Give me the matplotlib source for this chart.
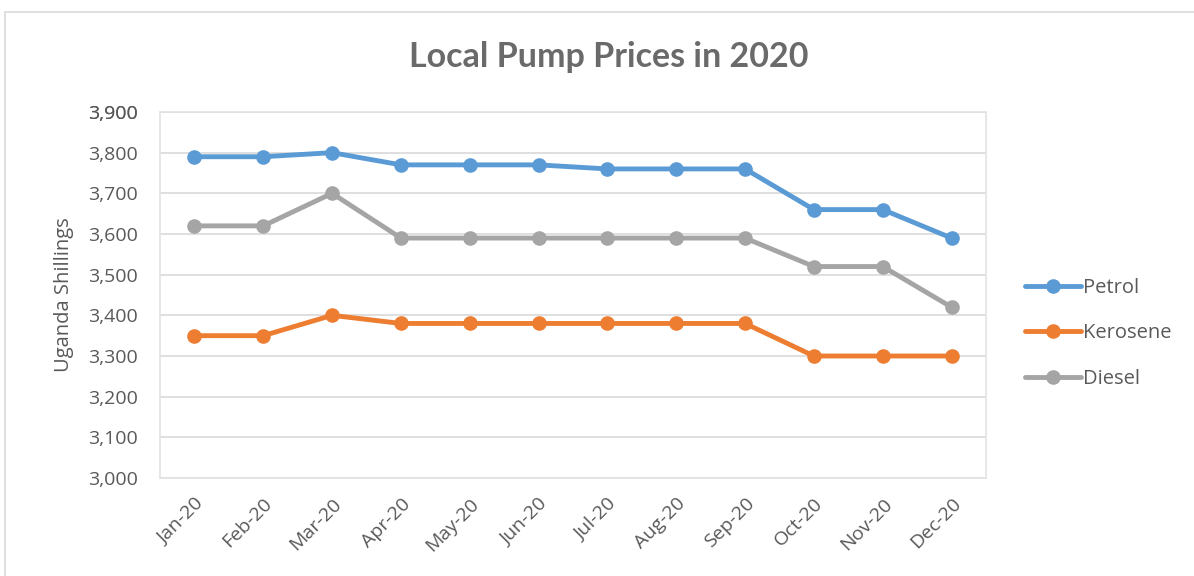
import matplotlib.pyplot as plt
from matplotlib.patches import Rectangle
from matplotlib.ticker import FuncFormatter

months = ['Jan-20', 'Feb-20', 'Mar-20', 'Apr-20', 'May-20', 'Jun-20',
          'Jul-20', 'Aug-20', 'Sep-20', 'Oct-20', 'Nov-20', 'Dec-20']
petrol = [3790, 3790, 3800, 3770, 3770, 3770, 3760, 3760, 3760, 3660, 3660, 3590]
kerosene = [3350, 3350, 3400, 3380, 3380, 3380, 3380, 3380, 3380, 3300, 3300, 3300]
diesel = [3620, 3620, 3700, 3590, 3590, 3590, 3590, 3590, 3590, 3520, 3520, 3420]
y_ticks = list(range(3000, 4000, 100))

text_grey = '#595959'
plt.rcParams['font.family'] = ['Open Sans', 'DejaVu Sans']

fig = plt.figure(figsize=(11.94, 5.76), dpi=100)
# outer chart border
fig.patches.append(Rectangle((5 / 1194, -0.01), 1.2, 1 - 12 / 576 + 0.01,
                             transform=fig.transFigure, fill=False,
                             edgecolor='#D9D9D9', linewidth=1.2))

ax = fig.add_axes([160 / 1194, 1 - 478 / 576, 826 / 1194, 366 / 576])
x = range(len(months))
for vals, name, col in [(petrol, 'Petrol', '#5B9BD5'),
                        (kerosene, 'Kerosene', '#ED7D31'),
                        (diesel, 'Diesel', '#A5A5A5')]:
    ax.plot(x, vals, color=col, linewidth=3.5, marker='o', markersize=9.5,
            label=name, solid_capstyle='round')

ax.set_xlim(-0.5, len(months) - 0.5)
ax.set_ylim(3000, 3900)
ax.set_yticks(y_ticks + [3900])
ax.yaxis.set_major_formatter(FuncFormatter(lambda v, p: f'{int(v):,}'))
ax.set_xticks(list(x))
ax.set_xticklabels(months, rotation=45, ha='right', rotation_mode='anchor')
ax.grid(axis='y', color='#D9D9D9', linewidth=1.2)
ax.set_axisbelow(True)
for s in ax.spines.values():
    s.set_color('#E3E3E3')
    s.set_linewidth(1.2)
ax.tick_params(length=0, colors=text_grey, labelsize=14, pad=16)
ax.tick_params(axis='x', pad=12)

ax.set_ylabel('Uganda Shillings', color=text_grey, fontsize=14.5, labelpad=10)
fig.text(0.51, 1 - 57 / 576, 'Local Pump Prices in 2020', ha='center', va='center',
         fontsize=24.5, fontweight='bold', color='#6a6a6a', family=['Lato', 'DejaVu Sans'])

leg = ax.legend(loc='center left', bbox_to_anchor=(1.025, 0.395), frameon=False,
                fontsize=14.5, labelspacing=1.25, handlelength=2.8, handletextpad=0.1,
                labelcolor=text_grey)

fig.savefig('out.png', dpi=100)
